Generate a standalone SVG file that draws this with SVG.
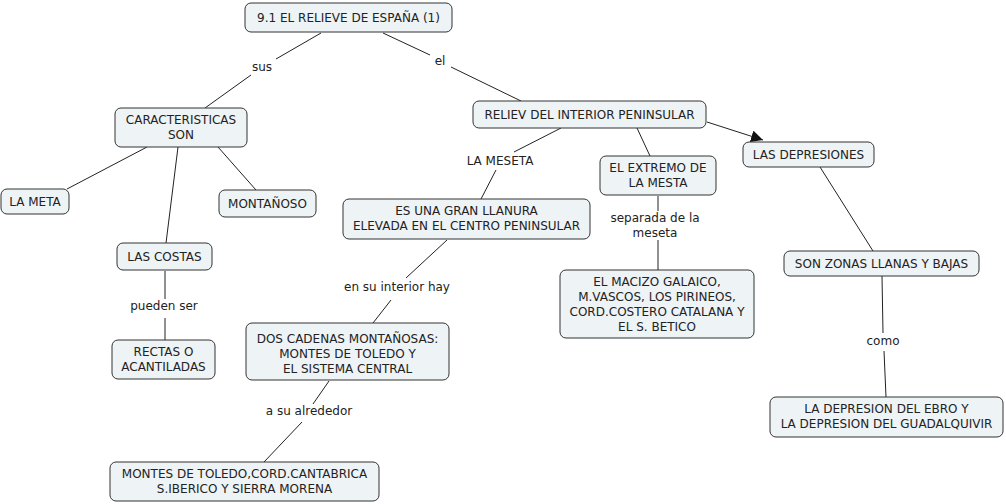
<svg xmlns="http://www.w3.org/2000/svg" width="1006" height="504" viewBox="0 0 1006 504">
<style>
.n rect{fill:#eef3f6;stroke:#333;stroke-width:1}
text{font-family:"DejaVu Sans",Verdana,sans-serif;font-size:12px;fill:#222;text-anchor:middle}
.c line{stroke:#222;stroke-width:1}
</style>
<defs>
<marker id="ah" viewBox="0 0 12 12" refX="12" refY="6" markerWidth="12" markerHeight="12" markerUnits="userSpaceOnUse" orient="auto">
<path d="M0,0 L12,6 L0,12 Z" fill="#111"/>
</marker>
</defs>
<rect width="1006" height="504" fill="#fff"/>
<g id="connectors" class="c">
<line x1="321" y1="33" x2="276" y2="59"/>
<line x1="251" y1="75" x2="205" y2="108"/>
<line x1="383" y1="33" x2="430" y2="55"/>
<line x1="451" y1="67" x2="521" y2="101"/>
<line x1="147" y1="147" x2="67" y2="189"/>
<line x1="178" y1="147" x2="166" y2="243"/>
<line x1="218" y1="147" x2="256" y2="190"/>
<line x1="165" y1="271" x2="165" y2="299"/>
<line x1="165" y1="318" x2="165" y2="340"/>
<line x1="561" y1="128" x2="514" y2="152"/>
<line x1="496" y1="170" x2="481" y2="199"/>
<line x1="637" y1="128" x2="650" y2="156"/>
<line x1="707" y1="122" x2="763" y2="140" marker-end="url(#ah)"/>
<line x1="658" y1="196" x2="658" y2="211"/>
<line x1="658" y1="240" x2="658" y2="270"/>
<line x1="447" y1="240" x2="406" y2="278"/>
<line x1="391" y1="300" x2="373" y2="323"/>
<line x1="820" y1="167" x2="873" y2="251"/>
<line x1="882" y1="276" x2="883" y2="333"/>
<line x1="884" y1="351" x2="886" y2="397"/>
<line x1="329" y1="381" x2="313" y2="404"/>
<line x1="302" y1="422" x2="264" y2="462"/>
</g>
<g id="labels">
<text x="262" y="71">sus</text>
<text x="440" y="65">el</text>
<text x="500" y="165">LA MESETA</text>
<text x="655" y="222">separada de la</text>
<text x="655" y="237">meseta</text>
<text x="397" y="291">en su interior hay</text>
<text x="164" y="310">pueden ser</text>
<text x="309" y="415">a su alrededor</text>
<text x="883" y="345">como</text>
</g>
<g id="n1" class="n"><rect x="245" y="3" width="207" height="29" rx="6"/><text x="348.5" y="22">9.1 EL RELIEVE DE ESPAÑA (1)</text></g>
<g id="n2" class="n"><rect x="115" y="108" width="132" height="39" rx="6"/><text x="181" y="124">CARACTERISTICAS</text><text x="181" y="139">SON</text></g>
<g id="n3" class="n"><rect x="1" y="189" width="68" height="25" rx="6"/><text x="35" y="206">LA META</text></g>
<g id="n4" class="n"><rect x="219" y="190" width="97" height="27" rx="6"/><text x="267.5" y="208">MONTAÑOSO</text></g>
<g id="n5" class="n"><rect x="117" y="243" width="95" height="27" rx="6"/><text x="164.5" y="261">LAS COSTAS</text></g>
<g id="n6" class="n"><rect x="112" y="340" width="103" height="39" rx="6"/><text x="163.5" y="356">RECTAS O</text><text x="163.5" y="371">ACANTILADAS</text></g>
<g id="n7" class="n"><rect x="473" y="101" width="233" height="27" rx="6"/><text x="589.5" y="119">RELIEV DEL INTERIOR PENINSULAR</text></g>
<g id="n8" class="n"><rect x="743" y="142" width="131" height="25" rx="6"/><text x="808.5" y="159">LAS DEPRESIONES</text></g>
<g id="n9" class="n"><rect x="600" y="156" width="116" height="39" rx="6"/><text x="658" y="172">EL EXTREMO DE</text><text x="658" y="187">LA MESTA</text></g>
<g id="n10" class="n"><rect x="343" y="199" width="247" height="40" rx="6"/><text x="466.5" y="215">ES UNA GRAN LLANURA</text><text x="466.5" y="230">ELEVADA EN EL CENTRO PENINSULAR</text></g>
<g id="n11" class="n"><rect x="560" y="270" width="194" height="68" rx="6"/><text x="657" y="286">EL MACIZO GALAICO,</text><text x="657" y="301">M.VASCOS, LOS PIRINEOS,</text><text x="657" y="316">CORD.COSTERO CATALANA Y</text><text x="657" y="331">EL S. BETICO</text></g>
<g id="n12" class="n"><rect x="784" y="251" width="195" height="25" rx="6"/><text x="881.5" y="268">SON ZONAS LLANAS Y BAJAS</text></g>
<g id="n13" class="n"><rect x="246" y="323" width="203" height="57" rx="6"/><text x="347.5" y="343">DOS CADENAS MONTAÑOSAS:</text><text x="347.5" y="358">MONTES DE TOLEDO Y</text><text x="347.5" y="373">EL SISTEMA CENTRAL</text></g>
<g id="n14" class="n"><rect x="770" y="397" width="233" height="40" rx="6"/><text x="886.5" y="413">LA DEPRESION DEL EBRO Y</text><text x="886.5" y="428">LA DEPRESION DEL GUADALQUIVIR</text></g>
<g id="n15" class="n"><rect x="110" y="462" width="269" height="39" rx="6"/><text x="244.5" y="478">MONTES DE TOLEDO,CORD.CANTABRICA</text><text x="244.5" y="493">S.IBERICO Y SIERRA MORENA</text></g>
</svg>
